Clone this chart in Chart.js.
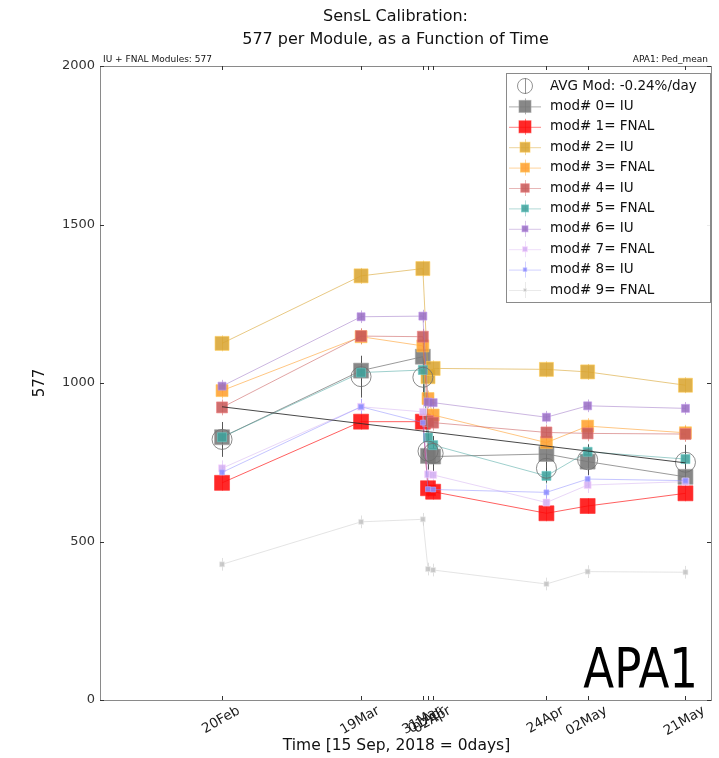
<!DOCTYPE html>
<html>
<head>
<meta charset="utf-8">
<script src="https://cdn.jsdelivr.net/npm/chart.js@4.4.1/dist/chart.umd.min.js"></script>
<style>
  html, body { margin: 0; padding: 0; background: #fff; }
  #wrap { width: 719px; height: 758px; position: relative; }
</style>
</head>
<body>
<div id="wrap"><canvas id="c" width="719" height="758"></canvas></div>
<script>
// Measurement days (days since 15 Sep 2018) and their tick labels
const days = [158, 185, 197, 198, 199, 221, 229, 248];
const dayLabels = ['20Feb', '19Mar', '31Mar', '01Apr', '02Apr', '24Apr', '02May', '21May'];
const yTicks = [0, 500, 1000, 1500, 2000];

// Ped_mean per module at each measurement day
const mod0 = [829, 1039, 1083, 770, 768, 776, 752, 704];
const mod1 = [685, 878, 878, 668, 657, 589, 612, 652];
const mod2 = [1125, 1338, 1361, 1020, 1046, 1043, 1035, 993];
const mod3 = [976, 1146, 1117, 951, 899, 812, 864, 843];
const mod4 = [923, 1148, 1146, 880, 875, 844, 841, 839];
const mod5 = [829, 1033, 1041, 828, 804, 707, 783, 760];
const mod6 = [990, 1209, 1211, 940, 938, 892, 928, 920];
const mod7 = [731, 925, 909, 712, 710, 623, 678, 689];
const mod8 = [718, 925, 875, 665, 664, 655, 697, 692];
const mod9 = [428, 562, 570, 413, 410, 366, 405, 403];

// Average over modules, its spread, and the per-module uncertainty
const avgMod = [822, 1020, 1018, 785, 778, 731, 758, 750];
const avgErr = [55, 66, 60, 58, 55, 45, 48, 55];
const modErr = [30, 25, 25, 25, 25, 25, 20, 25, 25, 20];

// Linear trend of the average (-0.24%/day), at first and last day
const fitDays = [158, 248];
const fitVals = [925, 748];

const modNames = ['mod# 0= IU', 'mod# 1= FNAL', 'mod# 2= IU', 'mod# 3= FNAL', 'mod# 4= IU',
                  'mod# 5= FNAL', 'mod# 6= IU', 'mod# 7= FNAL', 'mod# 8= IU', 'mod# 9= FNAL'];
const avgName = 'AVG Mod: -0.24%/day';
const modValues = [mod0, mod1, mod2, mod3, mod4, mod5, mod6, mod7, mod8, mod9];

// Styling
const modRGB = [[120,120,120],[255,10,10],[217,165,50],[255,160,48],[200,90,90],
                [64,162,156],[154,111,196],[212,176,242],[140,140,255],[196,196,196]];
const lineAlpha = [0.75, 0.65, 0.6, 0.6, 0.55, 0.5, 0.5, 0.5, 0.5, 0.45];
const markerSide = [15, 15, 14, 12, 11, 9, 8, 7, 5, 5];
const legendSide = [12, 12, 10, 9, 8.5, 7, 6, 5, 3.5, 3];
const rgba = (c, a) => `rgba(${c[0]},${c[1]},${c[2]},${a})`;
const FONT = '"DejaVu Sans", "Liberation Sans", sans-serif';

const datasets = [];
datasets.push({
  label: 'fit',
  data: fitDays.map((d, j) => ({ x: d, y: fitVals[j] })),
  borderColor: 'rgba(40,40,40,0.85)',
  borderWidth: 1,
  pointRadius: 0,
  order: -2
});
datasets.push({
  label: avgName,
  data: days.map((d, j) => ({ x: d, y: avgMod[j] })),
  showLine: false,
  pointStyle: 'circle',
  pointRadius: 10,
  pointBackgroundColor: 'rgba(0,0,0,0)',
  pointBorderColor: 'rgba(110,110,110,0.8)',
  pointBorderWidth: 1,
  order: -1
});
modValues.forEach((vals, i) => {
  datasets.push({
    label: modNames[i],
    data: days.map((d, j) => ({ x: d, y: vals[j] })),
    borderColor: rgba(modRGB[i], lineAlpha[i]),
    borderWidth: 1,
    pointStyle: 'rect',
    pointRadius: markerSide[i] / 1.4142,
    pointHoverRadius: markerSide[i] / 1.4142,
    pointBackgroundColor: rgba(modRGB[i], 0.88),
    pointBorderColor: rgba(modRGB[i].map(v => Math.min(255, v + 40)), 0.6),
    pointBorderWidth: 1,
    order: 10 - i
  });
});

// Error bars, frame, inner tick marks, texts and legend
const decorations = {
  id: 'decorations',
  beforeDatasetsDraw(chart) {
    const ctx = chart.ctx, xs = chart.scales.x, ys = chart.scales.y, a = chart.chartArea;
    ctx.save();
    ctx.beginPath();
    ctx.rect(a.left, a.top, a.right - a.left, a.bottom - a.top);
    ctx.clip();
    ctx.lineWidth = 1;
    modValues.forEach((vals, i) => {
      ctx.strokeStyle = rgba(modRGB[i], 0.55);
      vals.forEach((v, j) => {
        const px = Math.round(xs.getPixelForValue(days[j])) + 0.5;
        ctx.beginPath();
        ctx.moveTo(px, ys.getPixelForValue(v - modErr[i]));
        ctx.lineTo(px, ys.getPixelForValue(v + modErr[i]));
        ctx.stroke();
      });
    });
    ctx.strokeStyle = 'rgba(60,60,60,0.85)';
    avgMod.forEach((v, j) => {
      const px = Math.round(xs.getPixelForValue(days[j])) + 0.5;
      ctx.beginPath();
      ctx.moveTo(px, ys.getPixelForValue(v - avgErr[j]));
      ctx.lineTo(px, ys.getPixelForValue(v + avgErr[j]));
      ctx.stroke();
    });
    ctx.restore();
  },
  afterDraw(chart) {
    const ctx = chart.ctx, xs = chart.scales.x, ys = chart.scales.y, a = chart.chartArea;
    ctx.save();

    // frame
    ctx.strokeStyle = '#8a8a8a';
    ctx.lineWidth = 1;
    ctx.strokeRect(Math.round(a.left) + 0.5, Math.round(a.top) + 0.5,
                   Math.round(a.right - a.left), Math.round(a.bottom - a.top));

    // inner tick marks on all four sides
    ctx.strokeStyle = '#333';
    ctx.beginPath();
    days.forEach(d => {
      const px = Math.round(xs.getPixelForValue(d)) + 0.5;
      ctx.moveTo(px, a.bottom); ctx.lineTo(px, a.bottom - 4);
      ctx.moveTo(px, a.top); ctx.lineTo(px, a.top + 4);
    });
    yTicks.forEach(t => {
      const py = Math.round(ys.getPixelForValue(t)) + 0.5;
      ctx.moveTo(a.left, py); ctx.lineTo(a.left + 4, py);
      ctx.moveTo(a.right, py); ctx.lineTo(a.right - 4, py);
    });
    ctx.stroke();

    // rotated x tick labels, centred under each tick
    ctx.fillStyle = '#1a1a1a';
    ctx.font = `13.5px ${FONT}`;
    const ang = 30 * Math.PI / 180;
    days.forEach((d, j) => {
      const px = xs.getPixelForValue(d);
      const w = ctx.measureText(dayLabels[j]).width, h = 13.5;
      const bh = w * Math.sin(ang) + h * Math.cos(ang);
      const cy = a.bottom + 4 + bh / 2;
      ctx.save();
      ctx.translate(px - 1, cy);
      ctx.rotate(-ang);
      ctx.textAlign = 'center';
      ctx.textBaseline = 'middle';
      ctx.fillText(dayLabels[j], 0, 0);
      ctx.restore();
    });

    // axis titles
    const cx = (a.left + a.right) / 2;
    ctx.fillStyle = '#111';
    ctx.font = `15.5px ${FONT}`;
    ctx.textAlign = 'center';
    ctx.textBaseline = 'middle';
    ctx.fillText('Time [15 Sep, 2018 = 0days]', cx - 9, 746);
    ctx.save();
    ctx.translate(40, (a.top + a.bottom) / 2);
    ctx.rotate(-Math.PI / 2);
    ctx.font = `15px ${FONT}`;
    ctx.fillText('577', 0, 0);
    ctx.restore();

    // figure title
    ctx.font = `16px ${FONT}`;
    ctx.fillText('SensL Calibration:', cx - 10, 17);
    ctx.fillText('577 per Module, as a Function of Time', cx - 10, 40);

    // small corner notes above the frame
    ctx.font = `9px ${FONT}`;
    ctx.textBaseline = 'alphabetic';
    ctx.textAlign = 'left';
    ctx.fillText('IU + FNAL Modules: 577', a.left + 3, a.top - 4);
    ctx.textAlign = 'right';
    ctx.fillText('APA1: Ped_mean', a.right - 3, a.top - 4);

    // large APA label
    ctx.save();
    ctx.translate(a.right - 13, a.bottom - 13);
    ctx.scale(0.82, 1);
    ctx.font = `55px ${FONT}`;
    ctx.fillStyle = '#000';
    ctx.textAlign = 'right';
    ctx.textBaseline = 'alphabetic';
    ctx.fillText('APA1', 0, 0);
    ctx.restore();

    // legend
    const lx = 506.5, ly = 73.5, lw = 204, lh = 229, rowH = 20.4;
    ctx.fillStyle = 'rgba(255,255,255,0.9)';
    ctx.fillRect(lx, ly, lw, lh);
    ctx.strokeStyle = '#8a8a8a';
    ctx.strokeRect(lx, ly, lw, lh);
    ctx.font = `13.5px ${FONT}`;
    ctx.textAlign = 'left';
    ctx.textBaseline = 'middle';
    const mx = 525, tx = 550;
    // average entry
    let ry = 86;
    ctx.strokeStyle = 'rgba(120,120,120,0.8)';
    ctx.beginPath(); ctx.arc(mx, ry, 7.5, 0, Math.PI * 2); ctx.stroke();
    ctx.beginPath(); ctx.moveTo(mx + 0.5, ry - 8); ctx.lineTo(mx + 0.5, ry + 8); ctx.stroke();
    ctx.fillStyle = '#111';
    ctx.fillText(avgName, tx, ry);
    modNames.forEach((name, i) => {
      ry = 86 + rowH * (i + 1);
      const c = modRGB[i];
      ctx.strokeStyle = rgba(c, lineAlpha[i] * 0.8);
      ctx.beginPath();
      ctx.moveTo(509, ry + 0.5); ctx.lineTo(541, ry + 0.5);
      ctx.moveTo(mx + 0.5, ry - 8); ctx.lineTo(mx + 0.5, ry + 8);
      ctx.stroke();
      const s = legendSide[i];
      ctx.fillStyle = rgba(c, 0.88);
      ctx.fillRect(mx - s / 2, ry - s / 2, s, s);
      ctx.strokeStyle = rgba(c.map(v => Math.min(255, v + 40)), 0.6);
      ctx.strokeRect(mx - s / 2, ry - s / 2, s, s);
      ctx.fillStyle = '#111';
      ctx.fillText(name, tx, ry);
    });

    ctx.restore();
  }
};

new Chart(document.getElementById('c'), {
  type: 'line',
  data: { datasets },
  options: {
    responsive: false,
    animation: false,
    devicePixelRatio: 1,
    layout: { autoPadding: false, padding: { top: 66, right: 8, left: 0, bottom: 0 } },
    plugins: { legend: { display: false }, title: { display: false }, tooltip: { enabled: false } },
    scales: {
      x: {
        type: 'linear',
        min: 134.3,
        max: 252.96,
        afterBuildTicks: s => { s.ticks = days.map(v => ({ value: v })); },
        afterFit: s => { s.height = 58; },
        ticks: { display: false },
        grid: { display: false, drawTicks: false },
        border: { display: false }
      },
      y: {
        min: 0,
        max: 2000,
        afterBuildTicks: s => { s.ticks = yTicks.map(v => ({ value: v })); },
        afterFit: s => { s.width = 100; },
        ticks: { font: { family: FONT, size: 13 }, color: '#333', padding: 5, callback: v => String(v) },
        grid: { display: false, drawTicks: false },
        border: { display: false }
      }
    }
  },
  plugins: [decorations]
});
</script>
</body>
</html>
